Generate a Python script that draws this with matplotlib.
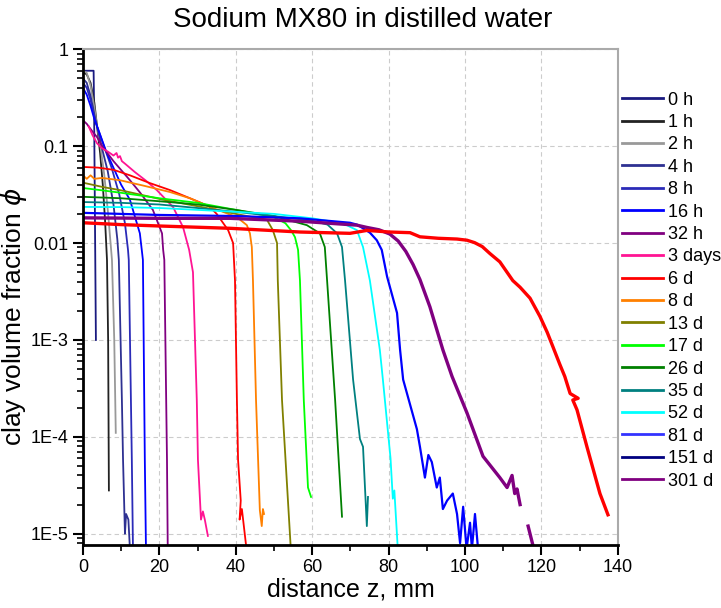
import numpy as np
import matplotlib
matplotlib.use('Agg')
from matplotlib import pyplot as plt
from matplotlib.lines import Line2D
from matplotlib.ticker import FixedLocator, FixedFormatter, LogLocator, NullFormatter

plt.rcParams['font.family'] = ['Liberation Sans', 'DejaVu Sans']

#profiles: distance z (mm) and clay volume fraction phi
z_0h = [0, 2.8, 2.9, 3.0, 3.2, 3.4]
phi_0h = [0.6, 0.6, 0.3, 0.1, 0.01, 0.001]

z_1h = [0, 1.0, 2.0, 3.0, 3.7, 4.5, 5.2, 5.8, 6.3, 6.6, 6.8]
phi_1h = [0.58, 0.55, 0.45, 0.28, 0.16, 0.085, 0.04, 0.017, 0.0067, 0.001, 2.8e-5]

z_2h = [0, 1.0, 2.0, 3.0, 3.7, 4.6, 5.6, 6.6, 7.6, 8.2, 8.6]
phi_2h = [0.6, 0.57, 0.42, 0.25, 0.16, 0.1, 0.05, 0.02, 0.0067, 0.001, 1.1e-4]

z_4h = [0, 1.0, 2.0, 3.0, 3.7, 5.0, 6.5, 8.0, 9.0, 9.4, 10.2, 10.5, 11.0, 11.3, 11.9, 12.3]
phi_4h = [0.5, 0.45, 0.33, 0.21, 0.16, 0.095, 0.055, 0.025, 0.011, 0.0067, 2.4e-4, 5.8e-5, 1.0e-5, 1.6e-5, 1.4e-5, 7e-6]

z_8h = [0, 1.0, 2.0, 3.0, 3.7, 5.5, 7.5, 9.5, 11.0, 11.8, 12.0, 12.8, 13.1]
phi_8h = [0.45, 0.4, 0.3, 0.2, 0.16, 0.1, 0.06, 0.032, 0.016, 0.0085, 0.0067, 5.8e-5, 7e-6]

z_16h = [0, 1.0, 2.0, 3.0, 4.4, 6.0, 7.9, 10.0, 12.3, 14.9, 15.4, 15.7, 16.2, 16.5]
phi_16h = [0.4, 0.34, 0.26, 0.19, 0.135, 0.09, 0.061, 0.04, 0.028, 0.0126, 0.0085, 0.0067, 5.8e-5, 7e-6]

z_32h = [0, 1.0, 2.6, 3.7, 5.2, 8.0, 12.3, 15.0, 18.3, 20.7, 21.0, 21.3, 22.0, 22.2]
phi_32h = [0.185, 0.17, 0.14, 0.124, 0.098, 0.07, 0.0445, 0.033, 0.022, 0.0126, 0.0085, 0.0067, 5.8e-5, 7e-6]

z_3d = [1.5, 2.5, 3.7, 5.0, 6.5, 8.0, 8.8, 9.2, 9.7, 10.2, 11.0, 13.6, 16.5, 19.4, 23.6, 26.2, 27.8, 28.8,
        29.8, 30.1, 30.9, 31.4, 31.9, 32.7]
phi_3d = [0.16, 0.13, 0.107, 0.095, 0.088, 0.08, 0.085, 0.076, 0.079, 0.07, 0.066, 0.054, 0.044, 0.035,
          0.0235, 0.0146, 0.0085, 0.005, 2.4e-4, 5.8e-5, 1.4e-5, 1.7e-5, 1.4e-5, 9.5e-6]

z_6d = [0, 4, 8, 12.3, 17.5, 22.8, 28, 33, 35, 36.5, 38, 39.3, 39.8, 40.3, 40.6, 41.3, 41.0, 41.6, 42.8]
phi_6d = [0.061, 0.060, 0.057, 0.050, 0.0416, 0.0352, 0.029, 0.024, 0.02, 0.0165, 0.0136, 0.01, 0.0041,
          2.4e-4, 5.8e-5, 2.2e-5, 1.4e-5, 1.8e-5, 7e-6]

z_8d = [0, 1, 2, 3, 5, 9.7, 16, 22.8, 28, 34, 40.3, 42.9, 43.7, 44.2, 44.5, 45.3, 46.3, 46.8, 47.1, 47.4]
phi_8d = [0.05, 0.046, 0.05, 0.046, 0.047, 0.0445, 0.039, 0.0336, 0.029, 0.023, 0.0185, 0.0153, 0.0126,
          0.0091, 0.0041, 2.4e-4, 1.75e-5, 1.2e-5, 1.8e-5, 1.6e-5]

z_13d = [0, 5, 10, 21, 30, 40, 46, 48.2, 49.7, 50.8, 51.0, 52.1, 54.4]
phi_13d = [0.042, 0.038, 0.035, 0.028, 0.024, 0.020, 0.018, 0.0173, 0.0136, 0.010, 0.0041, 2.4e-4, 7e-6]

z_17d = [0, 5, 10, 20, 30, 40, 50, 53, 54.5, 55.5, 56.3, 56.8, 57.8, 58.9, 59.7]
phi_17d = [0.037, 0.035, 0.033, 0.029, 0.026, 0.022, 0.0185, 0.016, 0.0135, 0.0115, 0.0085, 0.0041,
           2.4e-4, 3e-5, 2.4e-5]

z_26d = [0, 10, 20, 30, 40, 50, 58.6, 62, 63.3, 63.9, 66, 67.8]
phi_26d = [0.030, 0.029, 0.027, 0.025, 0.022, 0.019, 0.0153, 0.0126, 0.0091, 0.0041, 2.4e-4, 1.5e-5]

z_35d = [0, 10, 20, 30, 40, 50, 60, 64, 66.5, 67.8, 68.6, 70.7, 72.5, 73.3, 74.3, 74.6]
phi_35d = [0.0265, 0.026, 0.025, 0.023, 0.021, 0.019, 0.017, 0.0155, 0.0126, 0.0091, 0.0041, 3.9e-4,
           9.5e-5, 7.9e-5, 1.2e-5, 2.4e-5]

z_52d = [0, 10, 20, 30, 40, 50, 60, 68, 71.7, 73.3, 75.1, 77.7, 78.5, 80.5, 81.1, 81.5, 82.4]
phi_52d = [0.0236, 0.0235, 0.023, 0.022, 0.021, 0.020, 0.018, 0.016, 0.0136, 0.0091, 0.0041, 7.9e-4,
           3.9e-4, 6e-5, 2.3e-5, 2.8e-5, 7e-6]

z_81d = [0, 20, 40, 56.8, 69.9, 71.7, 73.3, 75.1, 76.9, 78.2, 79.6, 82.2, 83, 83.8, 87.4, 88.2, 89.5,
         90.4, 91.3, 92.6, 93.4, 94.2, 95.3, 96.8, 97.9, 98.7, 99.5, 100.4, 101.3, 101.8, 102.6, 103.4]
phi_81d = [0.0205, 0.0195, 0.019, 0.018, 0.0162, 0.0155, 0.0142, 0.0128, 0.0107, 0.0085, 0.0045, 1.9e-3,
           7.9e-4, 3.9e-4, 1.2e-4, 7.9e-5, 3.8e-5, 6.5e-5, 5.5e-5, 3.0e-5, 3.8e-5, 1.8e-5, 2.2e-5, 2.6e-5,
           1.6e-5, 8e-6, 1.9e-5, 7e-6, 1.3e-5, 7e-6, 1.6e-5, 7e-6]

z_151d = [0, 20, 38.5, 56.8, 71.7, 74.3, 77.5, 80.3, 82.5, 84.5, 86.4, 88.2, 90.8, 94.2, 96.6, 100.5,
          104.7, 109.1, 111, 112.3, 113, 113.6, 114.4, np.nan, 116.5, 117.8]
phi_151d = [0.0182, 0.018, 0.018, 0.0168, 0.0153, 0.0145, 0.0137, 0.0124, 0.0105, 0.0082, 0.006, 0.0042,
            2.2e-3, 7.9e-4, 4.2e-4, 1.77e-4, 6.3e-5, 3.8e-5, 3.0e-5, 4.0e-5, 2.6e-5, 2.9e-5, 2.0e-5,
            np.nan, 1.2e-5, 7.5e-6]

z_301d = [0, 10, 20, 38.5, 56.8, 69.9, 74.3, 80.3, 85.6, 88.2, 93, 97.9, 100.5, 102.5, 104.5, 106.5,
          109.1, 112.5, 114.4, 117, 119.6, 121.5, 123, 124.8, 126.1, 127.5, 129.6, 128.2, 129.3, 131.9,
          135.3, 137.4]
phi_301d = [0.0162, 0.0155, 0.015, 0.0142, 0.013, 0.0126, 0.0135, 0.013, 0.0128, 0.0116, 0.0112, 0.011,
            0.0107, 0.0101, 0.0092, 0.0078, 0.0064, 0.0041, 0.0035, 0.0027, 0.00175, 0.0012, 0.00085,
            0.00056, 0.00042, 0.00028, 0.00025, 0.00024, 0.00019, 7.9e-5, 2.6e-5, 1.57e-5]

labels = ['0 h', '1 h', '2 h', '4 h', '8 h', '16 h', '32 h', '3 days', '6 d', '8 d', '13 d', '17 d',
          '26 d', '35 d', '52 d', '81 d', '151 d', '301 d']
profiles = [(z_0h, phi_0h), (z_1h, phi_1h), (z_2h, phi_2h), (z_4h, phi_4h), (z_8h, phi_8h),
            (z_16h, phi_16h), (z_32h, phi_32h), (z_3d, phi_3d), (z_6d, phi_6d), (z_8d, phi_8d),
            (z_13d, phi_13d), (z_17d, phi_17d), (z_26d, phi_26d), (z_35d, phi_35d), (z_52d, phi_52d),
            (z_81d, phi_81d), (z_151d, phi_151d), (z_301d, phi_301d)]

#curve colours as drawn, legend colours as shown in the key
line_colors = ['#1a1a80', '#222222', '#999999', '#2e3192', '#2b2bb8', '#0000ff', '#800080', '#ff1493',
               '#ff0000', '#ff8000', '#808000', '#00ff00', '#008000', '#008080', '#00ffff', '#0000ff',
               '#800080', '#ff0000']
legend_colors = line_colors[:15] + ['#3333ff', '#000080', '#800080']
widths = [1.3] * 15 + [1.6, 2.4, 2.4]

yticks = [1e-5, 1e-4, 1e-3, 1e-2, 0.1, 1]
ytick_labels = ['1E-5', '1E-4', '1E-3', '0.01', '0.1', '1']

fig = plt.figure(figsize=(7.21, 6.08), dpi=100)
ax = fig.add_axes([0.115, 0.104, 0.742, 0.815])

for (z, phi), c, w in zip(profiles, line_colors, widths):
    ax.plot(z, phi, color=c, lw=w)

ax.set_yscale('log')
ax.set_xlim(0, 140)
ax.set_ylim(7.7e-6, 1)
ax.set_xticks(np.arange(0, 141, 20))
ax.set_xticks(np.arange(10, 140, 20), minor=True)
ax.yaxis.set_major_locator(FixedLocator(yticks))
ax.yaxis.set_major_formatter(FixedFormatter(ytick_labels))
ax.yaxis.set_minor_locator(LogLocator(base=10, subs=np.arange(2, 10), numticks=20))
ax.yaxis.set_minor_formatter(NullFormatter())
ax.tick_params(which='major', direction='out', length=7, width=1.5, labelsize=13, top=False, right=False)
ax.tick_params(which='minor', direction='out', length=4, width=1.2, top=False, right=False)

ax.grid(True, which='major', color='#cccccc', ls=(0, (4, 3)), lw=0.8)
for s in ['left', 'bottom']:
    ax.spines[s].set_linewidth(2)
for s in ['top', 'right']:
    ax.spines[s].set_color('#aaaaaa')
    ax.spines[s].set_linewidth(1.5)

fig.suptitle('Sodium MX80 in distilled water', fontsize=20, x=0.503, y=0.988, va='top')
ax.set_xlabel('distance z, mm', fontsize=18, labelpad=1)
ax.set_ylabel(r'clay volume fraction $\phi$', fontsize=19, labelpad=0)
ax.yaxis.set_label_coords(-0.1, 0.46)

handles = [Line2D([], [], color=c, lw=2) for c in legend_colors]
ax.legend(handles, labels, loc='upper left', bbox_to_anchor=(1.0, 0.922), frameon=False, fontsize=13,
          handlelength=2.3, handletextpad=0.25, labelspacing=0.30, borderaxespad=0, borderpad=0.2)

plt.savefig('out.png', dpi=100)
